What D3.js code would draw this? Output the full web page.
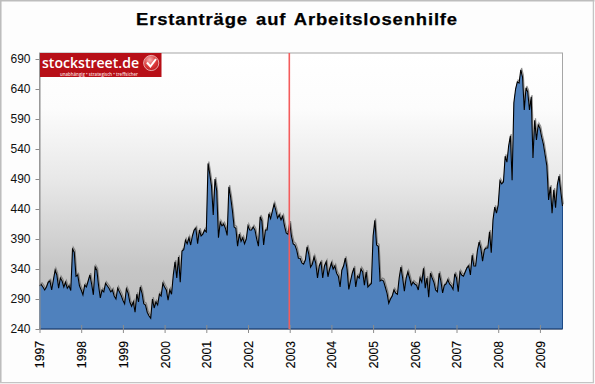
<!DOCTYPE html>
<html lang="de">
<head>
<meta charset="utf-8">
<title>Erstanträge auf Arbeitslosenhilfe</title>
<script src="https://cdn.jsdelivr.net/npm/d3@7/dist/d3.min.js"></script>
<style>
html,body{margin:0;padding:0;background:#fff}
svg{display:block}
text{font-family:"Liberation Sans",Arial,sans-serif;fill:#111}
</style>
</head>
<body>
<svg id="chart" width="595" height="384"></svg>
<script>
const title = "Erstanträge auf Arbeitslosenhilfe";
const yTicks = [240,290,340,390,440,490,540,590,640,690];
const yearTicks = [1997,1998,1999,2000,2001,2002,2003,2004,2005,2006,2007,2008,2009];
const markerYear = 2003;
const logoName = "stockstreet.de";
const logoClaim = "unabhängig • strategisch • treffsicher";
const pointsPerYear = 24;

const v1997 = [312,314,310,305,310,318,320,305,322,338,330,308,325,320,310,318,308,312,304,373,368,328,330,312];
const v1998 = [305,297,313,310,320,330,315,297,343,338,312,292,305,302,316,312,308,302,305,295,290,308,302,296];
const v1999 = [288,282,307,300,285,278,285,268,298,285,310,300,282,280,268,262,258,290,275,285,280,298,295,316];
const v2000 = [310,305,288,305,298,330,352,325,360,318,370,372,388,382,392,380,395,405,408,382,405,395,398,405];
const v2001 = [402,516,498,478,430,490,470,392,418,412,415,408,396,477,460,438,410,408,378,398,386,392,382,390];
const v2002 = [412,405,405,410,405,390,378,427,420,380,405,405,432,424,436,448,438,425,430,422,428,412,400,398];
const v2003 = [417,395,382,380,372,358,358,350,348,355,377,365,343,348,360,350,325,345,352,325,345,352,327,340];
const v2004 = [350,340,345,333,328,310,338,345,358,340,306,320,333,342,310,328,325,340,335,313,335,310,313,316];
const v2005 = [395,421,380,378,320,322,320,310,300,283,290,295,305,300,298,325,343,325,303,325,335,325,313,318];
const v2006 = [315,313,305,325,318,341,308,325,293,333,325,318,305,302,333,320,300,313,315,322,315,312,306,332];
const v2007 = [325,302,335,330,328,335,342,345,330,363,345,345,370,385,375,353,372,375,375,402,367,422,443,433];
const v2008 = [447,487,482,485,528,518,545,562,488,617,640,652,650,672,660,605,642,635,605,627,525,588,555,580];
const v2009 = [575,560,548,530,512,455,477,433,472,442,480,495,470,445];

const yearly = [v1997,v1998,v1999,v2000,v2001,v2002,v2003,v2004,v2005,v2006,v2007,v2008,v2009];
const series = yearly.flatMap((vals,k) => vals.map((v,i) => ({t: yearTicks[k] + i/pointsPerYear, v})));

const svg = d3.select("#chart");
const plot = {l:39.5, r:562.5, t:53, b:329};
const x = d3.scaleLinear().domain([1997, series[series.length-1].t]).range([plot.l, plot.r]);
const y = d3.scaleLinear().domain([240,700]).range([plot.b, plot.t]);

const defs = svg.append("defs");
const grad = defs.append("linearGradient").attr("id","bg").attr("gradientUnits","userSpaceOnUse")
  .attr("x1",0).attr("x2",0).attr("y1",plot.t).attr("y2",plot.b);
[[0,"#ffffff"],[0.2,"#fcfcfc"],[0.46,"#e8e8e8"],[0.78,"#c6c6c6"],[1,"#bcbcbc"]]
  .forEach(([o,c]) => grad.append("stop").attr("offset",o).attr("stop-color",c));
defs.append("filter").attr("id","soft").attr("x","-5%").attr("y","-5%").attr("width","110%").attr("height","110%")
  .append("feGaussianBlur").attr("stdDeviation",0.6);
const logoGrad = defs.append("radialGradient").attr("id","badge").attr("cx","40%").attr("cy","30%").attr("r","80%");
[[0,"#f7b0b0"],[0.55,"#dc3a3a"],[1,"#b51218"]].forEach(([o,c]) => logoGrad.append("stop").attr("offset",o).attr("stop-color",c));

// page frame
svg.append("rect").attr("width",595).attr("height",384).attr("fill","#fdfdfd");
svg.append("path").attr("d","M0.75,382.5V0.75H594.5").attr("fill","none").attr("stroke","#bdbdbd").attr("stroke-width",1.6);
svg.append("path").attr("d","M0,382.6H593.4V1").attr("fill","none").attr("stroke","#c4c4c4").attr("stroke-width",1.3);

// title
svg.append("text").attr("x",136).attr("y",25).attr("textLength",322).attr("lengthAdjust","spacingAndGlyphs")
  .attr("font-size",17).attr("font-weight","bold").style("letter-spacing","0.8px").style("word-spacing","2px")
  .attr("stroke","#000").attr("stroke-width",0.25).style("fill","#000").text(title);

// plot background
svg.append("rect").attr("x",plot.l).attr("y",plot.t).attr("width",plot.r-plot.l).attr("height",plot.b-plot.t)
  .attr("fill","url(#bg)").attr("stroke","#a6a6a6").attr("stroke-width",1);

const area = d3.area().x(d=>x(d.t)).y0(plot.b).y1(d=>y(d.v));
const line = d3.line().x(d=>x(d.t)).y(d=>y(d.v));

// shadow above the line
svg.append("path").datum(series).attr("d",line).attr("fill","none").attr("stroke","#666").attr("stroke-width",1.2)
  .attr("opacity",0.7).attr("filter","url(#soft)").attr("transform","translate(0.8,-1.8)");
svg.append("path").datum(series).attr("d",area).attr("fill","#4f81bd");
svg.append("path").datum(series).attr("d",line).attr("fill","none").attr("stroke","#000").attr("stroke-width",1.1)
  .attr("stroke-linejoin","miter");

// base and right edge of area
svg.append("line").attr("x1",plot.l).attr("x2",plot.r).attr("y1",plot.b).attr("y2",plot.b).attr("stroke","#0b2a5c").attr("stroke-width",1.2);
svg.append("line").attr("x1",plot.r).attr("x2",plot.r).attr("y1",y(series[series.length-1].v)).attr("y2",plot.b).attr("stroke","#1d4a86").attr("stroke-width",1);

// marker
const markerX = x(markerYear) - 0.4;
svg.append("line").attr("x1",markerX).attr("x2",markerX).attr("y1",plot.t).attr("y2",plot.b)
  .attr("stroke","#f45c5c").attr("stroke-width",1.6);

// axes
const yAxis = d3.axisLeft(y).tickValues(yTicks).tickSize(4).tickPadding(5).tickFormat(d3.format("d"));
const gy = svg.append("g").attr("transform",`translate(${plot.l},0)`).call(yAxis);
gy.select(".domain").attr("stroke","#8c8c8c").attr("d",`M0.5,${plot.t}V${plot.b}`);
gy.selectAll(".tick line").attr("stroke","#8c8c8c");
gy.selectAll("text").attr("font-size",12).style("font-family",'"Liberation Sans",Arial,sans-serif').style("fill","#111");

const xAxis = d3.axisBottom(x).tickValues(yearTicks).tickSize(4).tickFormat(d3.format("d"));
const gx = svg.append("g").attr("transform",`translate(0,${plot.b})`).call(xAxis);
gx.select(".domain").remove();
gx.selectAll(".tick line").attr("y1",-4).attr("y2",4).attr("stroke","#8c8c8c");
gx.selectAll("text").attr("font-size",12.2).style("font-family",'"Liberation Sans",Arial,sans-serif')
  .style("fill","#000").attr("stroke","#000").attr("stroke-width",0.15)
  .attr("text-anchor","end").attr("transform","rotate(-90)").attr("x",-12).attr("y",0).attr("dy","0.36em");

// logo
const logo = svg.append("g");
logo.append("rect").attr("x",plot.l+0.5).attr("y",plot.t).attr("width",121.5).attr("height",24).attr("fill","#b70f17");
logo.append("text").attr("x",42).attr("y",68).attr("font-size",15).attr("textLength",97).attr("lengthAdjust","spacingAndGlyphs")
  .style("font-family",'"Open Sans",sans-serif').attr("font-weight",600).style("fill","#fff").text(logoName);
logo.append("text").attr("x",60).attr("y",75.6).attr("font-size",4.8).attr("textLength",78).attr("lengthAdjust","spacingAndGlyphs")
  .style("font-family",'"Open Sans",sans-serif').attr("font-weight",600).style("fill","#f7dcdc").text(logoClaim);
logo.append("circle").attr("cx",151.2).attr("cy",63).attr("r",7.6).attr("fill","url(#badge)").attr("stroke","#efc9c9").attr("stroke-width",0.8);
logo.append("path").attr("d","M147,62.5L150.4,66.5L156,59").attr("fill","none").attr("stroke","#fff").attr("stroke-width",2);
</script>
</body>
</html>
